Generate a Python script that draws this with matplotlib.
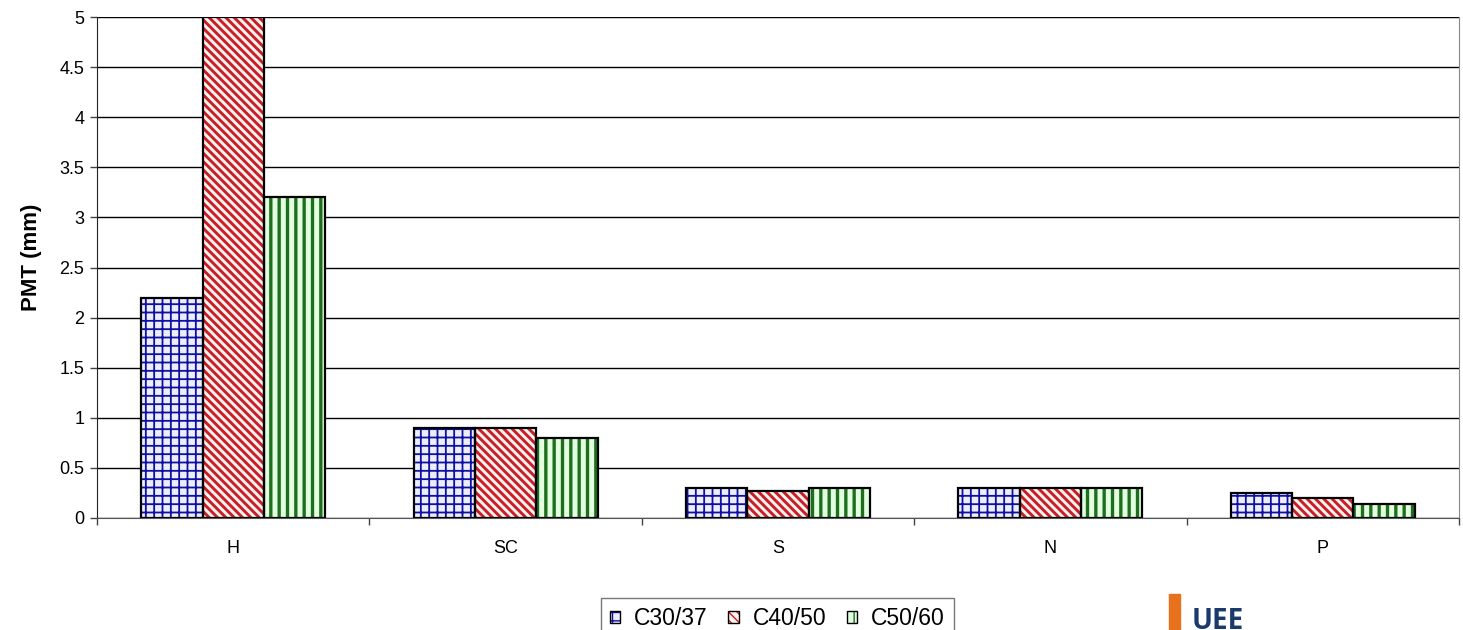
import matplotlib
matplotlib.use("Agg")
import matplotlib.pyplot as plt
import numpy as np
from matplotlib.patches import Patch
from matplotlib.legend_handler import HandlerTuple

categories = ["H", "SC", "S", "N", "P"]
series = ["C30/37", "C40/50", "C50/60"]
c30_37 = [2.2, 0.9, 0.3, 0.3, 0.25]
c40_50 = [5.0, 0.9, 0.27, 0.3, 0.2]
c50_60 = [3.2, 0.8, 0.3, 0.3, 0.14]
values = [c30_37, c40_50, c50_60]

faces = ["#ECEEFF", "#FFF2EE", "#E2FFE0"]
hatch_cols = ["#1010A0", "#C81E28", "#1F6E1F"]
hatches = ["++", "\\\\\\\\", "||"]
hatch_lw = [1.3, 2.1, 2.4]

plt.rcParams["font.family"] = ["Liberation Sans", "DejaVu Sans"]

fig = plt.figure(figsize=(14.63, 6.30), dpi=100)
ax = fig.add_axes([97 / 1463, 1 - 518 / 630, (1459 - 97) / 1463, (518 - 17) / 630])

x = np.arange(len(categories))
w = 0.225
handles = []
for i, (vals, fc, hc, h, lw) in enumerate(zip(values, faces, hatch_cols, hatches, hatch_lw)):
    pos = x + (i - 1) * w
    with plt.rc_context({"hatch.linewidth": lw, "hatch.color": hc}):
        bars = ax.bar(pos, vals, w, color=fc, edgecolor=hc, hatch=h, linewidth=0, zorder=2)
        for b in bars:
            if hasattr(b, "set_hatch_linewidth"):
                b.set_hatch_linewidth(lw)
        ax.bar(pos, vals, w, fill=False, edgecolor="black", linewidth=1.6, zorder=3)
        hp = Patch(facecolor=fc, edgecolor=hc, hatch=h, linewidth=0)
        if hasattr(hp, "set_hatch_linewidth"):
            hp.set_hatch_linewidth(lw)
    outline = Patch(fill=False, edgecolor="black", linewidth=1.0)
    handles.append((hp, outline))

ax.set_xlim(-0.5, len(categories) - 0.5)
ax.set_ylim(0, 5)
ax.set_yticks(np.arange(0, 5.01, 0.5))
ax.set_yticklabels(["0", "0.5", "1", "1.5", "2", "2.5", "3", "3.5", "4", "4.5", "5"], fontsize=13)
ax.yaxis.grid(True, color="black", linewidth=1.0, zorder=0)
ax.set_axisbelow(True)

ax.set_xticks(x)
ax.set_xticklabels(categories, fontsize=13)
ax.tick_params(axis="x", length=0, pad=16)
ax.set_xticks(np.arange(-0.5, len(categories), 1), minor=True)
ax.tick_params(axis="x", which="minor", length=5, width=1, color="#444444")
ax.tick_params(axis="y", length=5, width=1, color="#444444", pad=4)

ax.spines["top"].set_visible(False)
ax.spines["right"].set_color("#888888")
ax.spines["left"].set_color("#222222")
ax.spines["bottom"].set_color("#555555")

ax.set_ylabel("PMT (mm)", fontsize=16, fontweight="bold")
ax.yaxis.set_label_coords(-55 / 1362, 0.521)

leg = fig.legend(handles, series, loc="lower left",
                 handler_map={tuple: HandlerTuple(ndivide=1)},
                 bbox_to_anchor=(601 / 1463, -9 / 630), ncol=3,
                 prop={"size": 16.5},
                 frameon=True, fancybox=False, edgecolor="#555555",
                 handlelength=0.45, handleheight=0.45, handletextpad=0.6,
                 columnspacing=0.9, borderpad=0.4, borderaxespad=0)
leg.get_frame().set_linewidth(1.0)

# logo block
fig.patches.append(plt.Rectangle((1169 / 1463, 0), 11 / 1463, 36 / 630,
                                 transform=fig.transFigure, color="#E8711E"))
fig.text(1192 / 1463, -6 / 630, "UEE", fontsize=20, fontweight="bold",
         color="#1A3A6B", va="bottom", ha="left", family=["Open Sans", "DejaVu Sans"])

fig.savefig("out.png", dpi=100)
